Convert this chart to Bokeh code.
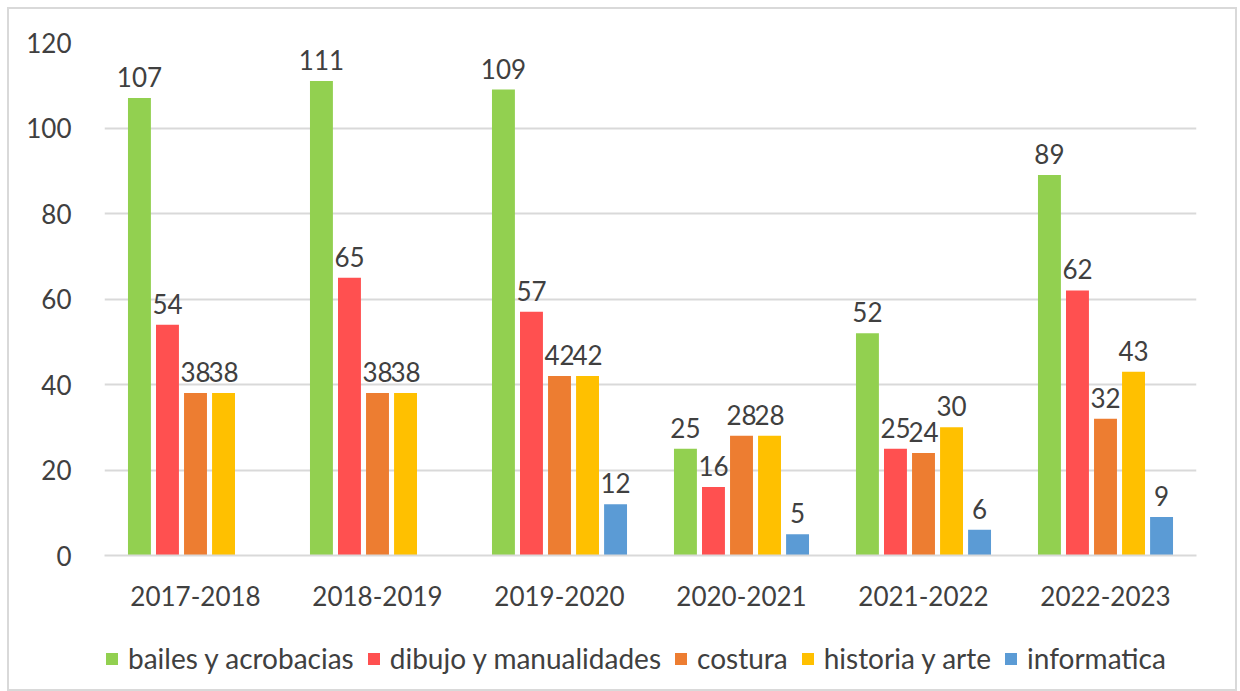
from bokeh.plotting import figure
from bokeh.layouts import column
from bokeh.models import ColumnDataSource, Legend, LegendItem, FactorRange, Range1d
from bokeh.transform import dodge
from bokeh.core.properties import value
from bokeh.embed import file_html
from bokeh.resources import INLINE

nan = float("nan")
years = ["2017-2018", "2018-2019", "2019-2020", "2020-2021", "2021-2022", "2022-2023"]
bailes = [107, 111, 109, 25, 52, 89]
dibujo = [54, 65, 57, 16, 25, 62]
costura = [38, 38, 42, 28, 24, 32]
historia = [38, 38, 42, 28, 30, 43]
informatica = [nan, nan, 12, 5, 6, 9]

series_names = ["bailes y acrobacias", "dibujo y manualidades", "costura", "historia y arte", "informatica"]
series_keys = ["bailes", "dibujo", "costura", "historia", "informatica"]
colors = ["#92D050", "#FF5050", "#ED7D31", "#FFC000", "#5B9BD5"]

data = dict(years=years, bailes=bailes, dibujo=dibujo, costura=costura,
            historia=historia, informatica=informatica)
for k in series_keys:
    data[k + "_lbl"] = ["" if v != v else str(v) for v in data[k]]
src = ColumnDataSource(data)

FONT = "Lato"
TXT = "#404040"

p = figure(x_range=FactorRange(*years, range_padding=0), y_range=Range1d(0, 120),
           width=1226, height=616, output_backend="svg", toolbar_location=None,
           min_border_left=95, min_border_right=39, min_border_top=33, min_border_bottom=70)
p.outline_line_color = None
p.background_fill_color = "white"

step = 0.154
bw = 0.126
for i, k in enumerate(series_keys):
    off = (i - 2) * step
    p.vbar(x=dodge("years", off, range=p.x_range), top=k, width=bw, source=src,
           fill_color=colors[i], line_color=None)
    p.text(x=dodge("years", off, range=p.x_range), y=k, text=k + "_lbl", source=src,
           text_align="center", text_baseline="alphabetic", y_offset=-21,
           text_font=value(FONT), text_font_size="26px", text_color=TXT)

p.xgrid.grid_line_color = None
p.ygrid.grid_line_color = "#d9d9d9"
p.ygrid.grid_line_width = 2
p.yaxis.ticker = [0, 20, 40, 60, 80, 100, 120]
p.yaxis.axis_line_color = None
p.yaxis.major_tick_line_color = None
p.yaxis.minor_tick_line_color = None
p.yaxis.major_label_standoff = 27
p.xaxis.axis_line_color = "#d9d9d9"
p.xaxis.axis_line_width = 2
p.xaxis.major_tick_line_color = None
p.xaxis.minor_tick_line_color = None
p.xaxis.major_label_standoff = 24
for ax in (p.xaxis[0], p.yaxis[0]):
    ax.major_label_text_font = FONT
    ax.major_label_text_font_size = "26px"
    ax.major_label_text_color = TXT

# legend strip (bars drawn outside its visible y range, only the legend shows)
q = figure(x_range=FactorRange(*years), y_range=Range1d(1000, 1001),
           width=1226, height=64, output_backend="svg", toolbar_location=None,
           min_border=0)
q.axis.visible = False
q.grid.visible = False
q.outline_line_color = None
items = []
for i, (k, name) in enumerate(zip(series_keys, series_names)):
    r = q.vbar(x="years", top=k, width=0.1, source=src, fill_color=colors[i], line_color=None)
    items.append(LegendItem(label=name, renderers=[r]))
legend = Legend(items=items, orientation="horizontal", location=(0, 14),
                glyph_width=15, glyph_height=15, label_standoff=9, spacing=12,
                label_text_font=FONT, label_text_font_size="28px", label_text_color=TXT,
                border_line_color=None, background_fill_alpha=0, padding=0, margin=0)
q.add_layout(legend, "center")

layout = column(p, q, spacing=0,
                styles={"border": "2px solid #d9d9d9", "margin-left": "7px", "margin-top": "7px"})

open("out.html", "w").write(file_html(layout, INLINE))
